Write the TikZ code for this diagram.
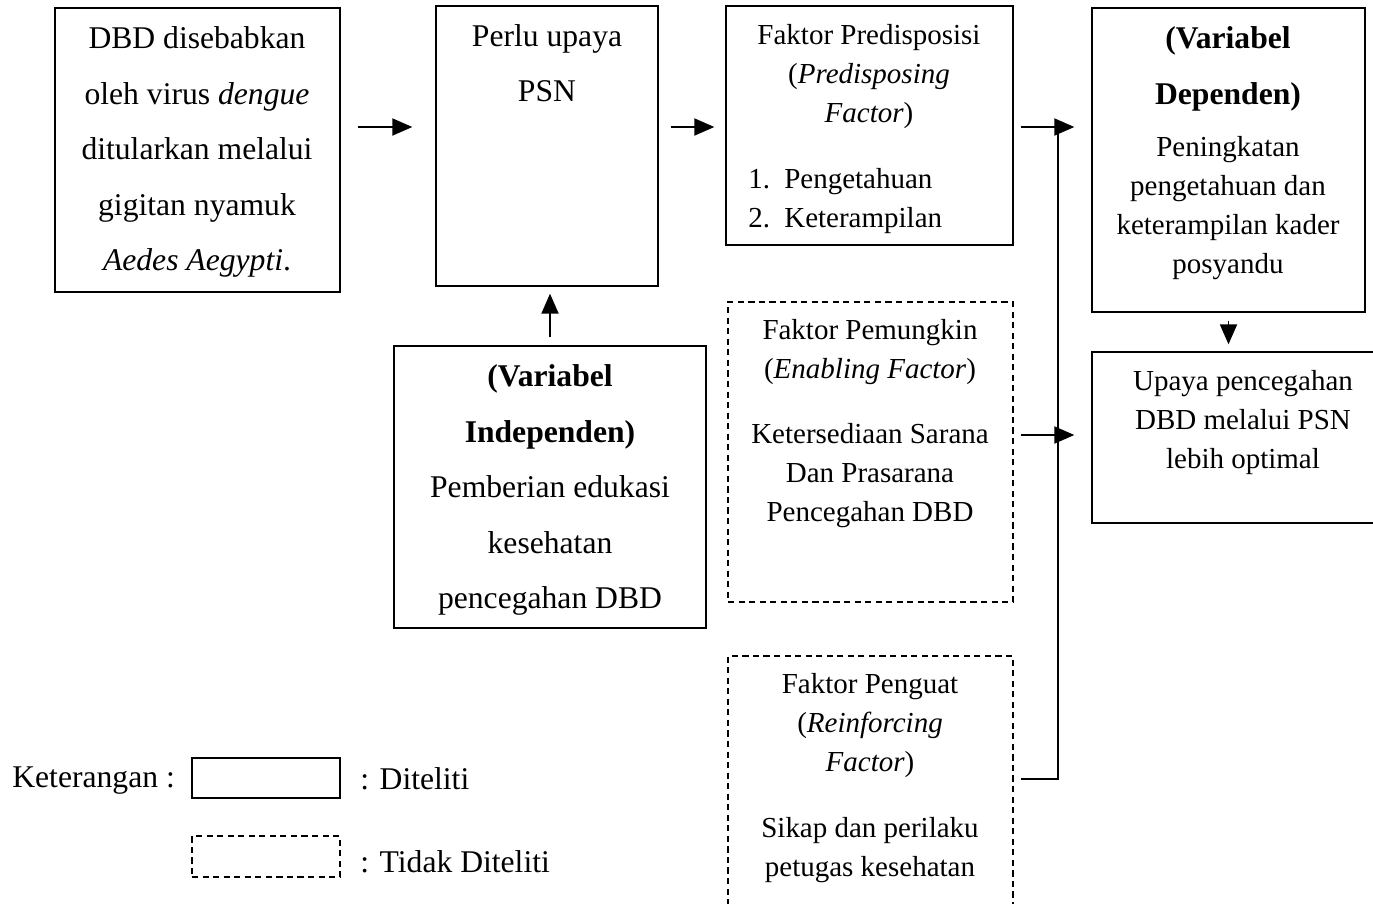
\documentclass[tikz,border=0pt]{standalone}
\usepackage{fontspec}
\setmainfont{Liberation Serif}
\usetikzlibrary{arrows.meta,positioning,calc}

\tikzset{
  box/.style={draw, line width=0.8pt, inner sep=0pt},
  dashbox/.style={box, dash pattern=on 3.5pt off 2.5pt},
  bigtxt/.style={align=center, inner sep=0pt, font=\fontsize{18}{31.6}\selectfont},
  smalltxt/.style={align=center, inner sep=0pt, font=\fontsize{16.5}{22.2}\selectfont},
  arr/.style={-{Triangle[length=0.4cm,width=0.34cm]}, line width=1.1pt},
  link/.style={line width=1.1pt},
}

\begin{document}
\begin{tikzpicture}[x=0.02cm, y=-0.02cm]
\useasboundingbox (0,0) rectangle (1373,903);

% boxes
\node[box, minimum width=5.7cm, minimum height=5.68cm] (dbd) at (197.5,150) {};
\node[box, minimum width=4.44cm, minimum height=5.6cm] (psn) at (547,146) {};
\node[box, minimum width=5.74cm, minimum height=4.78cm] (pre) at (869.5,125.5) {};
\node[box, minimum width=5.46cm, minimum height=6.08cm] (dep) at (1228.5,160) {};
\node[box, minimum width=6.04cm, minimum height=3.42cm] (hasil) at (1243,437.5) {};
\node[box, minimum width=6.24cm, minimum height=5.64cm] (ind) at (550,487) {};
\node[dashbox, minimum width=5.7cm, minimum height=6.0cm] (enb) at (870.5,452) {};
\node[dashbox, minimum width=5.7cm, minimum height=5.88cm] (rein) at (870.5,803) {};

% texts
\node[bigtxt] (dbdtxt) at (197,152) {DBD disebabkan\\oleh virus \textit{dengue}\\ditularkan melalui\\gigitan nyamuk\\\textit{Aedes Aegypti}.};
\node[bigtxt] (psntxt) at (547,63) {Perlu upaya\\PSN};
\node[smalltxt] (pretxt) at (869,77) {Faktor Predisposisi\\(\textit{Predisposing}\\\textit{Factor})};
\node[smalltxt, align=left, anchor=west] (prelist) at (748,201) {\makebox[0.72cm][l]{1.}Pengetahuan\\\makebox[0.72cm][l]{2.}Keterampilan};
\node[bigtxt] (deptitle) at (1228,69) {\textbf{(Variabel}\\\textbf{Dependen)}};
\node[smalltxt] (deptxt) at (1228,208) {Peningkatan\\pengetahuan dan\\keterampilan kader\\posyandu};
\node[smalltxt] (hasiltxt) at (1243,423) {Upaya pencegahan\\DBD melalui PSN\\lebih optimal};
\node[bigtxt] (indtxt) at (550,490) {\textbf{(Variabel}\\\textbf{Independen)}\\Pemberian edukasi\\kesehatan\\pencegahan DBD};
\node[smalltxt] (enbtitle) at (870,352) {Faktor Pemungkin\\(\textit{Enabling Factor})};
\node[smalltxt] (enbtxt) at (870,476) {Ketersediaan Sarana\\Dan Prasarana\\Pencegahan DBD};
\node[smalltxt] (reintitle) at (870,726) {Faktor Penguat\\(\textit{Reinforcing}\\\textit{Factor})};
\node[smalltxt] (reintxt) at (870,850) {Sikap dan perilaku\\petugas kesehatan};

% legend
\node[bigtxt, anchor=west] (ket) at (12,781) {Keterangan :};
\node[box, minimum width=2.96cm, minimum height=0.8cm] (legd) at (266,778) {};
\node[dashbox, minimum width=2.96cm, minimum height=0.82cm] (legt) at (266,856.5) {};
\node[bigtxt, anchor=west] (legdtxt) at (360,779) {: Diteliti};
\node[bigtxt, anchor=west] (legttxt) at (360,862) {: Tidak Diteliti};

% connectors
\coordinate (row) at (0,127);
\coordinate (row2) at (0,435);
\coordinate (bus) at (1058,779);
\draw[arr, shorten <=0.34cm, shorten >=0.46cm] (dbd.east |- row) -- (psn.west |- row);
\draw[arr, shorten <=0.24cm, shorten >=0.22cm] (psn.east |- row) -- (pre.west |- row);
\draw[arr, shorten <=0.14cm, shorten >=0.34cm] (pre.east |- row) -- (dep.west |- row);
\draw[link, shorten >=0.14cm] (bus |- row) -- (bus) -- (rein.east |- bus);
\draw[arr, shorten <=0.14cm, shorten >=0.34cm] (enb.east |- row2) -- (hasil.west |- row2);
\draw[arr, shorten <=0.16cm, shorten >=0.14cm] (dep.south) -- (dep.south |- hasil.north);
\draw[arr, shorten <=0.16cm, shorten >=0.14cm] (ind.north) -- (ind.north |- psn.south);
\end{tikzpicture}
\end{document}
